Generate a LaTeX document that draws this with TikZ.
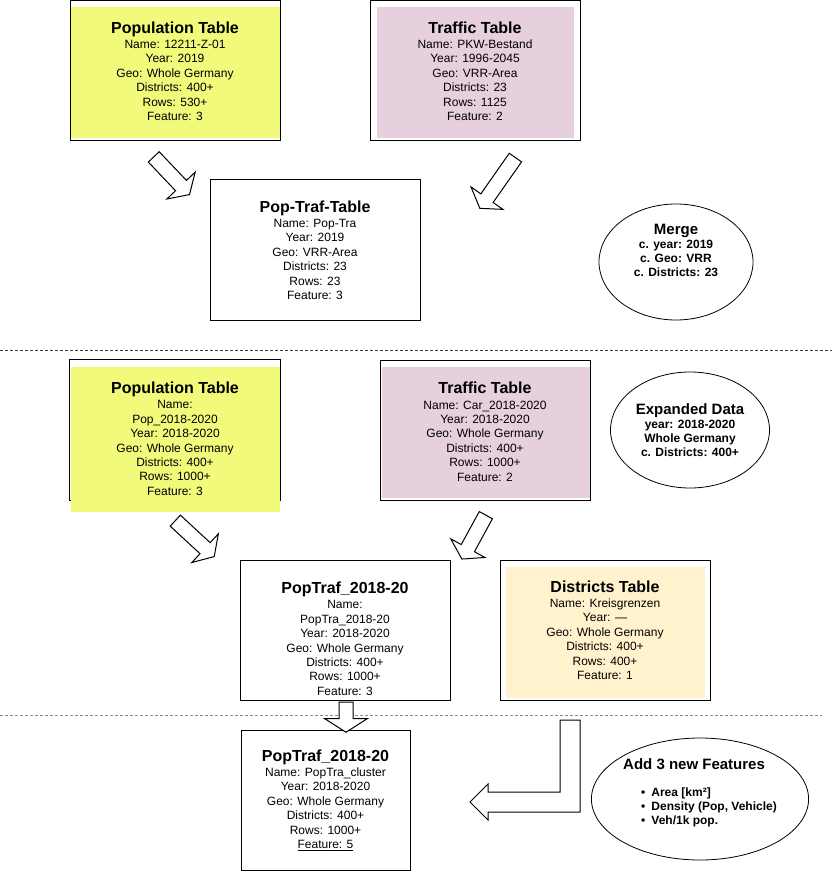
\documentclass[tikz,border=0pt]{standalone}
\usepackage{fontspec}
\setmainfont{Liberation Sans}
\usepackage{tikz}
\usetikzlibrary{shapes.geometric,shapes.arrows,backgrounds}
\definecolor{PopYellow}{RGB}{241,250,122}
\definecolor{TrafPink}{RGB}{230,208,222}
\definecolor{DistCream}{RGB}{255,242,204}
\definecolor{SepDark}{RGB}{60,60,60}
\definecolor{SepGray}{RGB}{140,140,140}
\newcommand{\tbltitle}[1]{{\fontsize{16}{18}\selectfont\bfseries #1}}
\newcommand{\ovaltitle}[1]{{\fontsize{15}{17}\selectfont\bfseries #1}}
\newcommand{\lowpad}{\rule{0pt}{29pt}}
\newcommand{\bulletitem}{\hspace*{18pt}\textbullet\hspace{6pt}}

\begin{document}
\begin{tikzpicture}[
  x=1pt, y=-1pt, line width=1pt,
  font=\fontsize{12}{14.4}\selectfont,
  tbl/.style={draw, rectangle, minimum width=210pt, minimum height=140pt, align=center, inner sep=0pt},
  oval/.style={draw, ellipse, align=center, inner sep=0pt, line width=0.8pt, font=\fontsize{12}{14}\selectfont\bfseries},
  blockarr/.style={single arrow, draw, fill=white, inner sep=0pt, text height=7pt, text depth=7pt, single arrow head extend=12pt, single arrow tip angle=115},
  sepline/.style={dashed, dash pattern=on 3pt off 2pt},
  hollow/.style={draw, fill=white, line join=miter}
]
\useasboundingbox (0,0) rectangle (832,882);

% Upper part: source tables and merge
\node[tbl] (pop1) at (175,71) {\tbltitle{Population Table}\\[1pt]Name: 12211-Z-01\\Year: 2019\\Geo: Whole Germany\\Districts: 400+\\Rows: 530+\\Feature: 3};
\node[tbl] (traf1) at (475,71) {\tbltitle{Traffic Table}\\[1pt]Name: PKW-Bestand\\Year: 1996-2045\\Geo: VRR-Area\\Districts: 23\\Rows: 1125\\Feature: 2};
\node[tbl] (poptraf1) at (315,250) {\tbltitle{Pop-Traf-Table}\\[1pt]Name: Pop-Tra\\Year: 2019\\Geo: VRR-Area\\Districts: 23\\Rows: 23\\Feature: 3};
\node[oval, minimum width=154pt, minimum height=116pt] (merge) at (676,262) {\ovaltitle{Merge}\\c. year: 2019\\c. Geo: VRR\\c. Districts: 23\\[10pt]\mbox{}};

\node[blockarr, minimum height=52pt, rotate=-46.5] (arrA) at (170,174) {};
\node[blockarr, minimum height=62pt, rotate=-125] (arrB) at (499,181) {};

\draw[sepline, SepDark] (0,350) -- (832,350);

% Middle part: expanded data
\node[tbl, draw=none] (pop2) at (175,430) {\tbltitle{\lowpad Population Table}\\[1pt]Name:\\Pop\_2018-2020\\Year: 2018-2020\\Geo: Whole Germany\\Districts: 400+\\Rows: 1000+\\Feature: 3};
\node[tbl] (traf2) at (485,430) {\tbltitle{\rule{0pt}{15pt}Traffic Table}\\[1pt]Name: Car\_2018-2020\\Year: 2018-2020\\Geo: Whole Germany\\Districts: 400+\\Rows: 1000+\\Feature: 2};
\node[oval, minimum width=159pt, minimum height=116pt] (expand) at (690,430) {\ovaltitle{Expanded Data}\\year: 2018-2020\\Whole Germany\\c. Districts: 400+};

\node[tbl] (poptraf2) at (345,630) {\tbltitle{\lowpad PopTraf\_2018-20}\\[1pt]Name:\\PopTra\_2018-20\\Year: 2018-2020\\Geo: Whole Germany\\Districts: 400+\\Rows: 1000+\\Feature: 3};
\node[tbl] (distr) at (605,630) {\tbltitle{Districts Table}\\[1pt]Name: Kreisgrenzen\\Year: ---\\Geo: Whole Germany\\Districts: 400+\\Rows: 400+\\Feature: 1};

\node[blockarr, minimum height=53pt, rotate=-42.7] (arrC) at (193,537) {};
\node[blockarr, minimum height=50pt, rotate=-118.6] (arrD) at (475,535) {};

\draw[sepline, SepGray] (0,715) -- (822,715);

% Lower part: new features
\node[tbl, minimum width=169pt] (cluster) at (325.5,800) {\tbltitle{PopTraf\_2018-20}\\[1pt]Name: PopTra\_cluster\\Year: 2018-2020\\Geo: Whole Germany\\Districts: 400+\\Rows: 1000+\\\underline{Feature: 5}};
\node[oval, minimum width=200pt, minimum height=122pt, align=left] (addfeat) at (700,799) {\ovaltitle{Add 3 new Features}\\[13pt]\bulletitem Area [km²]\\\bulletitem Density (Pop, Vehicle)\\\bulletitem Veh/1k pop.\\\mbox{}};

\node[blockarr, minimum height=30pt, rotate=-90, text height=6.5pt, text depth=6.5pt, single arrow head extend=14.5pt] (arrE) at (346,715) {};
\draw[hollow] (560,720) -- (580,720) -- (580,812) -- (488,812) -- (488,820) -- (470,802) -- (488,784) -- (488,792) -- (560,792) -- cycle;

% colour fills behind the tables
\begin{scope}[on background layer]
  \fill[PopYellow] ([shift={(1,7)}]pop1.north west) rectangle ([shift={(-1,-3)}]pop1.south east);
  \fill[TrafPink] ([shift={(7,7)}]traf1.north west) rectangle ([shift={(-7,-3)}]traf1.south east);
  \draw (pop2.north west) rectangle (pop2.south east);
  \fill[PopYellow] ([shift={(1,7)}]pop2.north west) rectangle ([shift={(-1,11)}]pop2.south east);
  \fill[TrafPink] ([shift={(2,7)}]traf2.north west) rectangle ([shift={(-1,-3)}]traf2.south east);
  \fill[DistCream] ([shift={(6,7)}]distr.north west) rectangle ([shift={(-6,-3)}]distr.south east);
\end{scope}
\end{tikzpicture}
\end{document}
